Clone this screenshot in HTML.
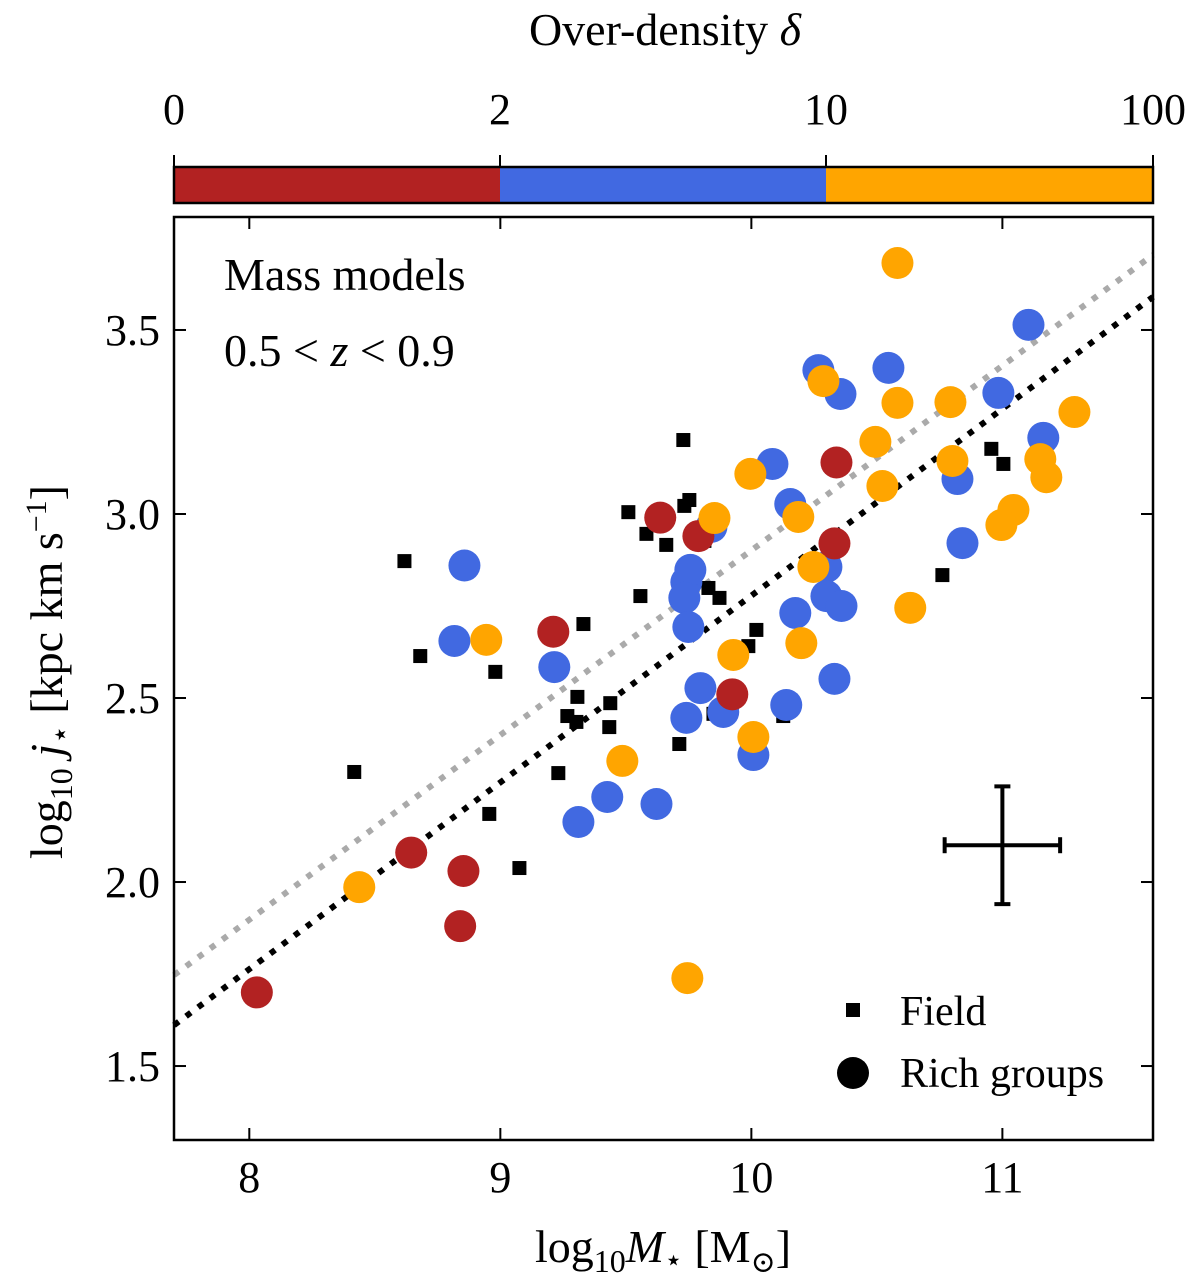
<!DOCTYPE html>
<html><head><meta charset="utf-8"><style>
html,body{margin:0;padding:0;background:#fff;}
svg{display:block;font-family:"Liberation Serif","DejaVu Serif",serif;}
</style></head><body>
<svg id="chart" width="1200" height="1281" viewBox="0 0 1200 1281" xmlns="http://www.w3.org/2000/svg">
<g id="cbar"></g>
<g id="plot"></g>
</svg>
<script>
const xTicks=[8,9,10,11];
const yTicks=[1.5,2.0,2.5,3.0,3.5];
const cbLabels=["0","2","10","100"];
const cbColors=["#b22222","#4169e1","#ffa500"];
const redX=[8.03,8.645,8.853,8.84,9.211,9.637,9.789,9.924,10.339,10.331];
const redY=[1.70,2.08,2.03,1.88,2.68,2.99,2.94,2.51,3.14,2.92];
const blueX=[8.857,8.817,9.215,9.426,9.311,9.622,9.741,9.757,9.733,9.749,9.741,9.797,9.888,10.008,10.139,10.175,10.155,10.084,10.267,10.355,10.299,10.299,10.359,10.331,10.546,10.821,10.841,10.984,11.104,11.163,9.841];
const blueY=[2.86,2.655,2.584,2.231,2.163,2.212,2.815,2.848,2.772,2.693,2.446,2.527,2.462,2.345,2.481,2.731,3.027,3.136,3.391,3.326,2.856,2.777,2.75,2.552,3.397,3.095,2.921,3.329,3.514,3.207,2.965];
const orangeX=[10.582,10.287,10.494,10.582,10.522,10.793,10.801,11.151,11.175,11.287,11.044,10.996,10.633,10.247,10.187,9.996,9.853,9.928,10.199,10.008,9.486,8.944,8.438,9.745];
const orangeY=[3.682,3.361,3.196,3.302,3.076,3.304,3.144,3.149,3.1,3.277,3.011,2.97,2.745,2.856,2.992,3.109,2.989,2.617,2.649,2.394,2.329,2.658,1.986,1.739];
const fieldX=[9.729,9.753,9.733,9.51,9.582,9.661,8.618,9.558,9.331,8.681,8.98,9.813,9.829,9.873,9.307,9.267,9.303,9.438,9.434,9.231,9.713,8.956,9.076,8.418,10.02,9.988,9.849,10.127,10.956,11.004,10.761];
const fieldY=[3.201,3.038,3.022,3.005,2.946,2.916,2.872,2.777,2.701,2.614,2.571,2.927,2.799,2.772,2.503,2.451,2.435,2.486,2.421,2.296,2.375,2.185,2.038,2.299,2.685,2.641,2.457,2.451,3.177,3.136,2.834];
const fitBlack=[1.611,3.59];
const fitGray=[1.747,3.704];
const errX=[0.23];const errY=[0.16];const errCenter=[11.0,2.10];

const L=174,R=1153,T=217,B=1140;
const X0=7.70,X1=11.60,Y0=1.299,Y1=3.807;
const sx=v=>L+(v-X0)/(X1-X0)*(R-L);
const sy=v=>B-(v-Y0)/(Y1-Y0)*(B-T);
const NS="http://www.w3.org/2000/svg";
function mk(tag,attrs,parent,text){const e=document.createElementNS(NS,tag);for(const k in attrs)e.setAttribute(k,attrs[k]);if(text!==undefined)e.textContent=text;parent.appendChild(e);return e;}
const plot=document.getElementById('plot');
const cbar=document.getElementById('cbar');

const cbT=167,cbB=203;
const cbEdges=[174,500,826,1153];
for(let i=0;i<3;i++){
  const r=mk('rect',{x:cbEdges[i],y:cbT,width:cbEdges[i+1]-cbEdges[i],height:cbB-cbT,fill:cbColors[i]},cbar);
  
  
}
mk('rect',{x:174,y:cbT,width:979,height:cbB-cbT,fill:'none',stroke:'#000','stroke-width':2.5},cbar);
for(let i=0;i<4;i++){
  mk('line',{x1:cbEdges[i],y1:cbT,x2:cbEdges[i],y2:cbT-12,stroke:'#000','stroke-width':2},cbar);
  const t=mk('text',{x:cbEdges[i],y:124,'text-anchor':'middle','font-size':44},cbar,cbLabels[i]);
  
  
}
const ct=mk('text',{x:665,y:45,'text-anchor':'middle','font-size':46},cbar);


ct.innerHTML='Over-density <tspan font-style="italic">δ</tspan>';

const lg=mk('line',{x1:sx(X0),y1:sy(fitGray[0]),x2:sx(X1),y2:sy(fitGray[1]),stroke:'#aaaaaa','stroke-width':6,'stroke-dasharray':'6 9'},plot);


const lb=mk('line',{x1:sx(X0),y1:sy(fitBlack[0]),x2:sx(X1),y2:sy(fitBlack[1]),stroke:'#000','stroke-width':6,'stroke-dasharray':'6 9'},plot);



for(let i=0;i<fieldX.length;i++){
  const s=mk('rect',{x:sx(fieldX[i])-7,y:sy(fieldY[i])-7,width:14,height:14,fill:'#000'},plot);
  
  
}
function circles(xs,ys,col,name){
  for(let i=0;i<xs.length;i++){
    const c=mk('circle',{cx:sx(xs[i]),cy:sy(ys[i]),r:16,fill:col},plot);
    
    
  }
}
circles(blueX,blueY,cbColors[1],'group-point-blue');
circles(redX,redY,cbColors[0],'group-point-red');
circles(orangeX,orangeY,cbColors[2],'group-point-orange');

const ex=sx(errCenter[0]),ey=sy(errCenter[1]);
const eg=mk('g',{stroke:'#000','stroke-width':4},plot);


const exl=sx(errCenter[0]-errX[0]),exr=sx(errCenter[0]+errX[0]);
const eyt=sy(errCenter[1]+errY[0]),eyb=sy(errCenter[1]-errY[0]);
mk('line',{x1:exl,y1:ey,x2:exr,y2:ey},eg);
mk('line',{x1:ex,y1:eyt,x2:ex,y2:eyb},eg);
mk('line',{x1:exl,y1:ey-8,x2:exl,y2:ey+8},eg);
mk('line',{x1:exr,y1:ey-8,x2:exr,y2:ey+8},eg);
mk('line',{x1:ex-8,y1:eyt,x2:ex+8,y2:eyt},eg);
mk('line',{x1:ex-8,y1:eyb,x2:ex+8,y2:eyb},eg);

mk('rect',{x:L,y:T,width:R-L,height:B-T,fill:'none',stroke:'#000','stroke-width':2.5},plot);
xTicks.forEach(v=>{
  const x=sx(v);
  mk('line',{x1:x,y1:B,x2:x,y2:B-12,stroke:'#000','stroke-width':2},plot);
  mk('line',{x1:x,y1:T,x2:x,y2:T+12,stroke:'#000','stroke-width':2},plot);
  const t=mk('text',{x:x,y:1192,'text-anchor':'middle','font-size':44},plot,String(v));
  
  
});
yTicks.forEach(v=>{
  const y=sy(v);
  mk('line',{x1:L,y1:y,x2:L+12,y2:y,stroke:'#000','stroke-width':2},plot);
  mk('line',{x1:R,y1:y,x2:R-12,y2:y,stroke:'#000','stroke-width':2},plot);
  const t=mk('text',{x:160,y:y+15,'text-anchor':'end','font-size':44},plot,v.toFixed(1));
  
  
});

const a1=mk('text',{x:224,y:290,'font-size':46},plot,'Mass models');


const a2=mk('text',{x:224,y:366,'font-size':46},plot);


a2.innerHTML='0.5 &lt; <tspan font-style="italic">z</tspan> &lt; 0.9';

const lsq=mk('rect',{x:846,y:1003,width:14,height:14,fill:'#000'},plot);


const lt1=mk('text',{x:900,y:1025,'font-size':42},plot,'Field');


const lc=mk('circle',{cx:853,cy:1073,r:16,fill:'#000'},plot);


const lt2=mk('text',{x:900,y:1087,'font-size':42},plot,'Rich groups');



const xt=mk('text',{x:663,y:1262,'text-anchor':'middle','font-size':46},plot);


xt.innerHTML='log<tspan font-size="32" dy="10">10</tspan><tspan dy="-10" font-style="italic">M</tspan><tspan font-size="30" dy="8">⋆</tspan><tspan dy="-8"> [M</tspan><tspan font-size="30" dy="10">⊙</tspan><tspan dy="-10">]</tspan>';
const yt=mk('text',{x:0,y:0,'text-anchor':'middle','font-size':46,transform:'translate(62,672) rotate(-90)'},plot);


yt.innerHTML='log<tspan font-size="32" dy="10">10</tspan><tspan dy="-10" font-style="italic"> j</tspan><tspan font-size="30" dy="8">⋆</tspan><tspan dy="-8"> [kpc km s</tspan><tspan font-size="30" dy="-16">−1</tspan><tspan dy="16">]</tspan>';
</script>
</body></html>
